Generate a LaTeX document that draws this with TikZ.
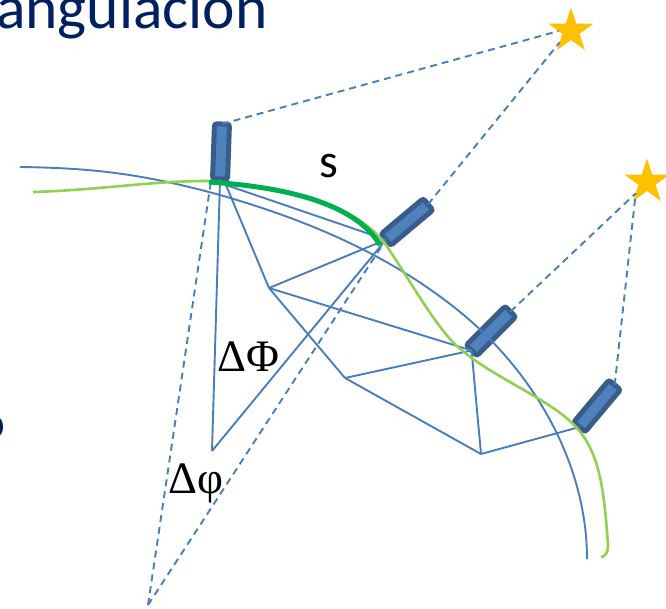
\documentclass[tikz,border=0pt]{standalone}
\usepackage{fontspec}
\setmainfont{Carlito}
\newfontfamily\greekfont{Liberation Serif}
\usetikzlibrary{shapes.geometric}
\definecolor{lineblue}{HTML}{4A7EBB}
\definecolor{tubedark}{HTML}{385D8A}
\definecolor{tubefill}{HTML}{4F81BD}
\definecolor{stargold}{HTML}{FFC000}
\definecolor{lightgreen}{HTML}{92D050}
\definecolor{darkgreen}{HTML}{00B050}
\definecolor{titleblue}{HTML}{002060}
\begin{document}
\begin{tikzpicture}[x=1pt, y=-1pt,
  tube/.style={draw=tubedark, fill=tubefill, line width=5pt, rectangle, rounded corners=2.5pt,
               minimum width=55pt, minimum height=15pt, inner sep=0pt, outer sep=0pt},
  sun/.style={fill=stargold, star, star points=5, star point ratio=2.618,
              minimum size=47pt, inner sep=0pt, outer sep=0pt},
  title/.style={text=titleblue, anchor=base west, inner sep=0pt},
  sym/.style={anchor=base west, inner sep=0pt, font=\greekfont\fontsize{45}{45}\selectfont},
  l/.style={draw=lineblue, line width=1.9pt, line join=round},
  d/.style={draw=lineblue, line width=1.9pt, dash pattern=on 7pt off 5pt}]

  \useasboundingbox (0,0) rectangle (666,608);
  \clip (0,0) rectangle (666,608);

  \node[title, font=\fontsize{61.5}{61.5}\selectfont] (heading) at (-4,28) {angulación};
  \node[title, font=\fontsize{47}{47}\selectfont] (edgeo)   at (-20,438) {o};

  \node[tube, rotate=88] (tubeA) at (221,151.5) {};
  \node[tube, rotate=40] (tubeB) at (407,222)   {};
  \node[tube, rotate=45] (tubeC) at (491,331)   {};
  \node[tube, rotate=50] (tubeD) at (597,406)   {};
  \node[sun]  (starA) at (571,31)  {};
  \node[sun]  (starB) at (647,182) {};

  \coordinate (apex)  at (148,605);
  \coordinate (footA) at (211,181);
  \coordinate (hubO)  at (212,451);
  \coordinate (hubP)  at (269,288);
  \coordinate (hubQ)  at (345,378);
  \coordinate (hubR)  at (481,454);
  \coordinate (spokeA) at (226,185);

  \draw[d] (tubeA.east) -- (starA.west);
  \draw[d] (tubeB.east) -- (starA.south west);
  \draw[d] (tubeC.east) -- (starB.south west);
  \draw[d] (tubeD.east) -- (starB.south west);
  \draw[d] (apex) -- (footA);
  \draw[d] (apex) -- (tubeB.west);

  \draw[l] (tubeA.west) -- (hubO);
  \draw[l] (hubO) -- (tubeB.west);
  \draw[l] (spokeA) -- (hubP);
  \draw[l] (spokeA) -- (tubeB.west);
  \draw[l] (hubP) -- (tubeB.west);
  \draw[l] (hubP) -- (tubeC.west);
  \draw[l] (hubP) -- (hubQ);
  \draw[l] (hubQ) -- (tubeC.west);
  \draw[l] (hubQ) -- (hubR);
  \draw[l] (hubR) -- (tubeC.west);
  \draw[l] (hubR) -- (tubeD.west);

  \draw[l] (20,167) .. controls (90,168) and (140,173) .. (220,195)
    .. controls (300,218) and (380,250) .. (450,304)
    .. controls (530,365) and (587,460) .. (587,559);
  \draw[lightgreen, line width=2.6pt] (33,192) .. controls (100,190) and (150,181) .. (207,181)
    .. controls (285,187) and (355,203) .. (386,245)
    .. controls (410,280) and (440,335) .. (463,351)
    .. controls (490,375) and (550,400) .. (573,424)
    .. controls (600,450) and (604,490) .. (608,545)
    .. controls (608,553) and (605,557) .. (601,557);
  \draw[darkgreen, line width=5pt] (209,182) .. controls (285,187) and (355,203) .. (380,245);

  \node[anchor=base west, inner sep=0pt, font=\fontsize{48}{48}\selectfont] (arclen) at (319,177) {s};
  \node[sym] (bigphi)   at (217,371) {ΔΦ};
  \node[sym] (smallphi) at (168,493) {Δφ};

\end{tikzpicture}
\end{document}
